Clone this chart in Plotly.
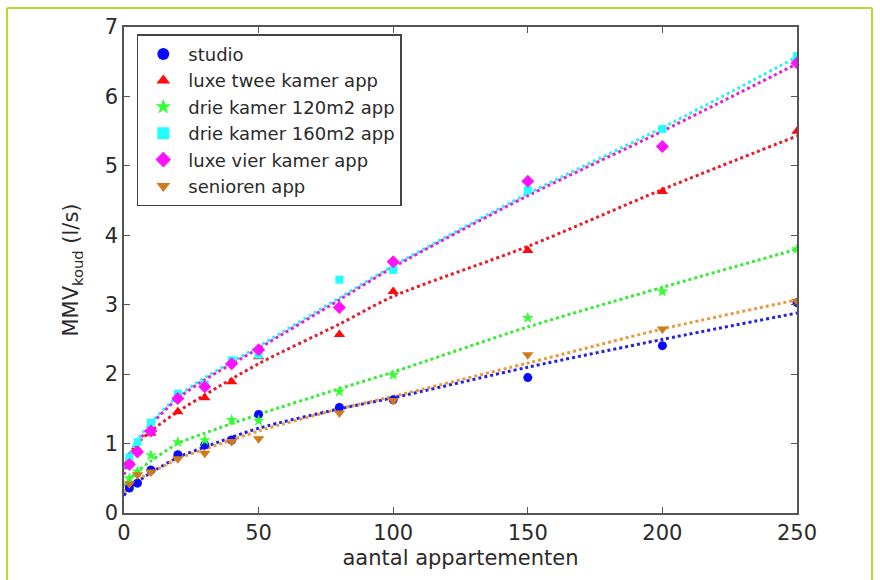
import plotly.graph_objects as go

# measured points
x_pts = [2, 5, 10, 20, 30, 40, 50, 80, 100, 150, 200, 250]
studio = [0.36, 0.43, 0.62, 0.84, 0.98, 1.05, 1.42, 1.52, 1.63, 1.95, 2.41, 3.03]
luxe_twee = [0.75, 0.92, 1.15, 1.46, 1.66, 1.89, 2.25, 2.57, 3.19, 3.78, 4.63, 5.50]
drie_120 = [0.50, 0.60, 0.83, 1.02, 1.05, 1.34, 1.33, 1.75, 1.99, 2.81, 3.19, 3.80]
drie_160 = [0.80, 1.02, 1.30, 1.72, 1.85, 2.20, 2.28, 3.36, 3.50, 4.65, 5.53, 6.58]
luxe_vier = [0.70, 0.88, 1.18, 1.65, 1.82, 2.15, 2.35, 2.96, 3.62, 4.78, 5.28, 6.48]
senioren = [0.42, 0.55, 0.59, 0.78, 0.86, 1.03, 1.07, 1.44, 1.62, 2.28, 2.65, 3.05]

# trend lines
x_fit = [0, 2, 5, 10, 20, 30, 50, 80, 100, 150, 200, 250]
fit_studio = [0.25, 0.36, 0.45, 0.58, 0.80, 0.95, 1.22, 1.50, 1.66, 2.10, 2.50, 2.88]
fit_luxe_twee = [0.68, 0.85, 1.00, 1.18, 1.46, 1.70, 2.15, 2.72, 3.12, 3.84, 4.66, 5.43]
fit_drie_120 = [0.38, 0.48, 0.60, 0.75, 1.00, 1.15, 1.42, 1.79, 2.03, 2.68, 3.25, 3.80]
fit_drie_160 = [0.62, 0.85, 1.05, 1.30, 1.68, 1.95, 2.40, 3.10, 3.56, 4.60, 5.55, 6.57]
fit_luxe_vier = [0.55, 0.80, 1.00, 1.27, 1.65, 1.92, 2.37, 3.07, 3.54, 4.57, 5.50, 6.47]
fit_senioren = [0.30, 0.40, 0.48, 0.58, 0.78, 0.92, 1.18, 1.50, 1.68, 2.16, 2.65, 3.07]

names = ["studio", "luxe twee kamer app", "drie kamer 120m2 app",
         "drie kamer 160m2 app", "luxe vier kamer app", "senioren app"]
x_ticks = [0, 50, 100, 150, 200, 250]
y_ticks = [0, 1, 2, 3, 4, 5, 6, 7]

series = [studio, luxe_twee, drie_120, drie_160, luxe_vier, senioren]
fits = [fit_studio, fit_luxe_twee, fit_drie_120, fit_drie_160, fit_luxe_vier, fit_senioren]
marker_colors = ["#0a0aff", "#ff0a0a", "#33ff33", "#22ffff", "#ff11ff", "#d07a1c"]
line_colors = ["#2222e0", "#e81c2a", "#33ee33", "#33f0f0", "#e020e0", "#e89a40"]
symbols = ["circle", "triangle-up", "star", "square", "diamond", "triangle-down"]
sizes = [9, 10, 9, 8, 10, 10]

fig = go.Figure()
for fy, lc in zip(fits, line_colors):
    fig.add_trace(go.Scatter(x=x_fit, y=fy, mode="lines", showlegend=False,
                             line=dict(color=lc, width=3, dash="3px,3px", shape="spline", smoothing=0.8),
                             hoverinfo="skip"))
for ys, nm, mc, sym, sz in zip(series, names, marker_colors, symbols, sizes):
    fig.add_trace(go.Scatter(x=x_pts, y=ys, mode="markers", name=nm,
                             marker=dict(color=mc, symbol=sym, size=sz, line=dict(width=0))))

txt = "#2a2a2a"
axis_common = dict(showgrid=False, zeroline=False, showline=True, linecolor="#555555", linewidth=1.5,
                   mirror="ticks", ticks="inside", ticklen=6, tickcolor="#555555", automargin=False,
                   tickfont=dict(family="DejaVu Sans", size=21, color=txt))
fig.update_xaxes(range=[0, 250], tickvals=x_ticks, **axis_common,
                 title=dict(text="aantal appartementen", font=dict(family="DejaVu Sans", size=21, color=txt), standoff=6))
fig.update_yaxes(range=[0, 7], tickvals=y_ticks, **axis_common,
                 title=dict(text="MMV<sub>koud</sub> (l/s)", font=dict(family="DejaVu Sans", size=21, color=txt), standoff=20))

# outer greenish frame
frame = dict(color="#b8d636", width=2)
fig.add_shape(type="line", xref="paper", yref="paper", x0=-0.1738, x1=-0.1738, y0=1.039, y1=-0.2, line=frame)
fig.add_shape(type="line", xref="paper", yref="paper", x0=1.1114, x1=1.1114, y0=1.039, y1=-0.2, line=frame)
fig.add_shape(type="line", xref="paper", yref="paper", x0=-0.1738, x1=1.1114, y0=1.039, y1=1.039, line=frame)

fig.update_layout(
    width=880, height=580,
    margin=dict(l=124, r=83, t=27, b=67),
    paper_bgcolor="white", plot_bgcolor="white",
    font=dict(family="DejaVu Sans", color=txt),
    legend=dict(x=0.019, y=0.985, xanchor="left", yanchor="top",
                bgcolor="white", bordercolor="#444444", borderwidth=1.5,
                font=dict(family="DejaVu Sans", size=18, color=txt),
                itemsizing="constant", tracegroupgap=0, itemwidth=40),
)

fig.write_html("out.html", config={"displayModeBar": False},
               post_script="document.body.style.margin='0px';document.body.style.overflow='hidden';")
